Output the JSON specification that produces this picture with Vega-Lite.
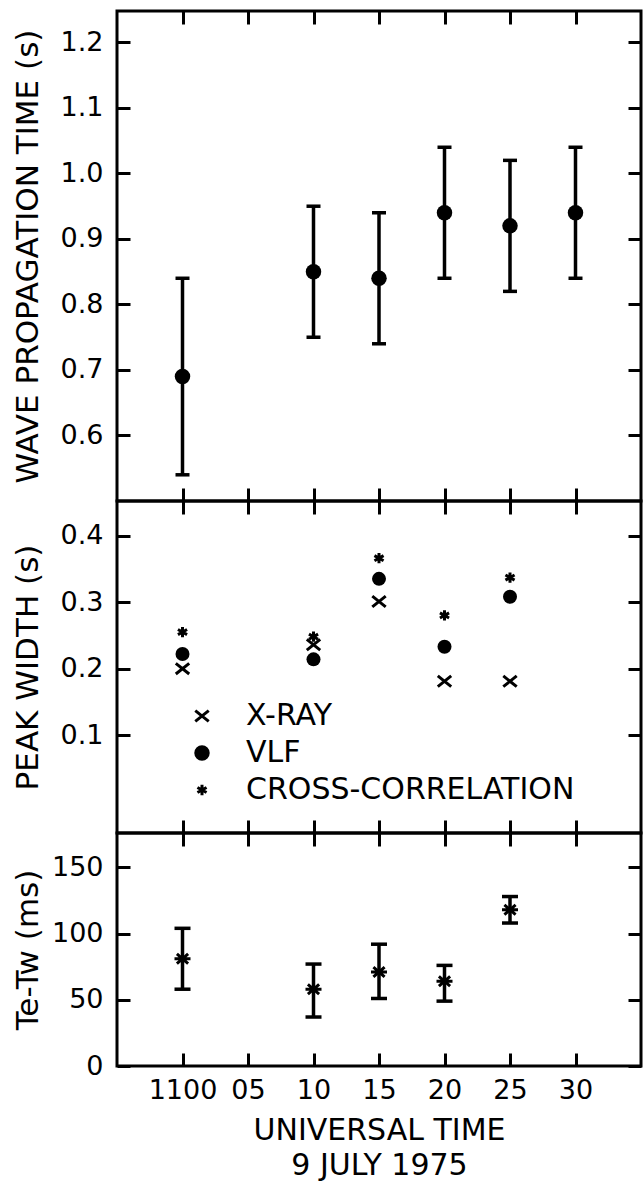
{
  "$schema": "https://vega.github.io/schema/vega-lite/v6.json",
  "padding": {"left": 10, "top": 8, "right": 0, "bottom": 0},
  "background": "white",
  "spacing": 0,
  "bounds": "flush",
  "config": {
    "view": {"stroke": "black", "strokeWidth": 3},
    "font": "DejaVu Sans",
    "axis": {
      "domain": false, "grid": false, "tickColor": "black", "tickWidth": 3, "tickSize": -13,
      "labelColor": "black", "titleColor": "black", "labelFontSize": 27, "titleFontSize": 31,
      "labelFont": "DejaVu Sans", "titleFont": "DejaVu Sans", "titleFontWeight": "normal",
      "minExtent": 0, "labelPadding": 27
    }
  },
  "vconcat": [
    {
      "width": 524, "height": 490,
      "data": {"values": [
        {"t": 0, "v": 0.69, "lo": 0.54, "hi": 0.84},
        {"t": 10, "v": 0.85, "lo": 0.75, "hi": 0.95},
        {"t": 15, "v": 0.84, "lo": 0.74, "hi": 0.94},
        {"t": 20, "v": 0.94, "lo": 0.84, "hi": 1.04},
        {"t": 25, "v": 0.92, "lo": 0.82, "hi": 1.02},
        {"t": 30, "v": 0.94, "lo": 0.84, "hi": 1.04}
      ]},
      "layer": [
        {
          "mark": {"type": "errorbar", "ticks": {"color": "black", "opacity": 1}, "rule": {"color": "black", "opacity": 1}, "size": 14, "thickness": 3.5, "color": "black"},
          "encoding": {
            "x": {"field": "t", "type": "quantitative", "scale": {"domain": [-5, 35], "nice": false},
                  "axis": {"orient": "bottom", "values": [0, 5, 10, 15, 20, 25, 30], "labels": false, "title": null}},
            "y": {"field": "lo", "type": "quantitative", "scale": {"domain": [0.5, 1.248], "nice": false, "zero": false},
                  "axis": {"orient": "left", "values": [0.6, 0.7, 0.8, 0.9, 1.0, 1.1, 1.2], "format": ".1f",
                           "title": "WAVE PROPAGATION TIME (s)", "titleX": -73}},
            "y2": {"field": "hi"}
          }
        },
        {
          "mark": {"type": "circle", "size": 240, "color": "black", "opacity": 1},
          "encoding": {
            "x": {"field": "t", "type": "quantitative",
                  "axis": {"orient": "top", "values": [0, 5, 10, 15, 20, 25, 30], "labels": false, "title": null}},
            "y": {"field": "v", "type": "quantitative",
                  "axis": {"orient": "right", "values": [0.6, 0.7, 0.8, 0.9, 1.0, 1.1, 1.2], "labels": false, "title": null}}
          }
        }
      ],
      "resolve": {"axis": {"x": "independent", "y": "independent"}}
    },
    {
      "width": 524, "height": 332,
      "data": {"values": [
        {"t": 0, "series": "X-RAY", "v": 0.2},
        {"t": 0, "series": "VLF", "v": 0.222},
        {"t": 0, "series": "CROSS-CORRELATION", "v": 0.255},
        {"t": 10, "series": "X-RAY", "v": 0.236},
        {"t": 10, "series": "VLF", "v": 0.214},
        {"t": 10, "series": "CROSS-CORRELATION", "v": 0.248},
        {"t": 15, "series": "X-RAY", "v": 0.301},
        {"t": 15, "series": "VLF", "v": 0.335},
        {"t": 15, "series": "CROSS-CORRELATION", "v": 0.366},
        {"t": 20, "series": "X-RAY", "v": 0.181},
        {"t": 20, "series": "VLF", "v": 0.233},
        {"t": 20, "series": "CROSS-CORRELATION", "v": 0.28},
        {"t": 25, "series": "X-RAY", "v": 0.181},
        {"t": 25, "series": "VLF", "v": 0.308},
        {"t": 25, "series": "CROSS-CORRELATION", "v": 0.337}
      ]},
      "layer": [
        {
          "transform": [{"filter": "datum.series != 'VLF'"}],
          "mark": {"type": "point", "filled": true, "fill": "black", "stroke": "black", "strokeWidth": 3, "opacity": 1},
          "encoding": {
            "x": {"field": "t", "type": "quantitative", "scale": {"domain": [-5, 35], "nice": false},
                  "axis": {"orient": "bottom", "values": [0, 5, 10, 15, 20, 25, 30], "labels": false, "title": null}},
            "y": {"field": "v", "type": "quantitative", "scale": {"domain": [-0.047, 0.452], "nice": false, "zero": false},
                  "axis": {"orient": "left", "values": [0.1, 0.2, 0.3, 0.4], "format": ".1f",
                           "title": "PEAK WIDTH (s)", "titleX": -73}},
            "size": {"field": "series", "type": "nominal",
                     "scale": {"domain": ["X-RAY", "VLF", "CROSS-CORRELATION"], "range": [180, 130, 360]}},
            "shape": {"field": "series", "type": "nominal",
                      "scale": {"domain": ["X-RAY", "VLF", "CROSS-CORRELATION"],
                                "range": ["M-1,-0.8L1,0.8M-1,0.8L1,-0.8", "circle", "M0,-0.9L0,0.9M-0.8,-0.45L0.8,0.45M-0.8,0.45L0.8,-0.45"]},
                      "legend": {"title": null, "orient": "none", "legendX": 70, "legendY": 690,
                                 "labelFontSize": 30, "labelFont": "DejaVu Sans", "labelColor": "black", "labelLimit": 500,
                                 "symbolFillColor": "black", "symbolStrokeColor": "black", "symbolStrokeWidth": 3,
                                 "symbolOpacity": 1, "rowPadding": 7, "labelOffset": 29}}
          }
        },
        {
          "transform": [{"filter": "datum.series == 'VLF'"}],
          "mark": {"type": "circle", "size": 196, "color": "black", "opacity": 1},
          "encoding": {
            "x": {"field": "t", "type": "quantitative",
                  "axis": {"orient": "top", "values": [0, 5, 10, 15, 20, 25, 30], "labels": false, "title": null}},
            "y": {"field": "v", "type": "quantitative",
                  "axis": {"orient": "right", "values": [0.1, 0.2, 0.3, 0.4], "labels": false, "title": null}}
          }
        }
      ],
      "resolve": {"axis": {"x": "independent", "y": "independent"}}
    },
    {
      "width": 524, "height": 233,
      "data": {"values": [
        {"t": 0, "v": 81, "lo": 58, "hi": 104},
        {"t": 10, "v": 58, "lo": 37, "hi": 77},
        {"t": 15, "v": 71, "lo": 51, "hi": 92},
        {"t": 20, "v": 64, "lo": 49, "hi": 76},
        {"t": 25, "v": 118, "lo": 108, "hi": 128}
      ]},
      "layer": [
        {
          "mark": {"type": "errorbar", "ticks": {"color": "black", "opacity": 1}, "rule": {"color": "black", "opacity": 1}, "size": 16, "thickness": 3.5, "color": "black"},
          "encoding": {
            "x": {"field": "t", "type": "quantitative", "scale": {"domain": [-5, 35], "nice": false},
                  "axis": {"orient": "bottom", "values": [0, 5, 10, 15, 20, 25, 30], "labelPadding": 24,
                           "labelExpr": "datum.value == 0 ? '1100' : (datum.value < 10 ? '0' + datum.value : '' + datum.value)",
                           "title": ["UNIVERSAL TIME", "9 JULY 1975"], "titlePadding": 12, "titleLineHeight": 35, "titleFontSize": 30}},
            "y": {"field": "lo", "type": "quantitative", "scale": {"domain": [0, 176], "nice": false, "zero": false},
                  "axis": {"orient": "left", "values": [0, 50, 100, 150], "format": "d",
                           "title": "Te-Tw (ms)", "titleX": -73}},
            "y2": {"field": "hi"}
          }
        },
        {
          "mark": {"type": "point", "filled": true, "fill": "black", "stroke": "black", "strokeWidth": 3, "size": 256, "opacity": 1,
                   "shape": "M-1,0L1,0M-0.7,-0.6L0.7,0.6M-0.7,0.6L0.7,-0.6"},
          "encoding": {
            "x": {"field": "t", "type": "quantitative",
                  "axis": {"orient": "top", "values": [0, 5, 10, 15, 20, 25, 30], "labels": false, "title": null}},
            "y": {"field": "v", "type": "quantitative",
                  "axis": {"orient": "right", "values": [0, 50, 100, 150], "labels": false, "title": null}}
          }
        }
      ],
      "resolve": {"axis": {"x": "independent", "y": "independent"}}
    }
  ]
}
